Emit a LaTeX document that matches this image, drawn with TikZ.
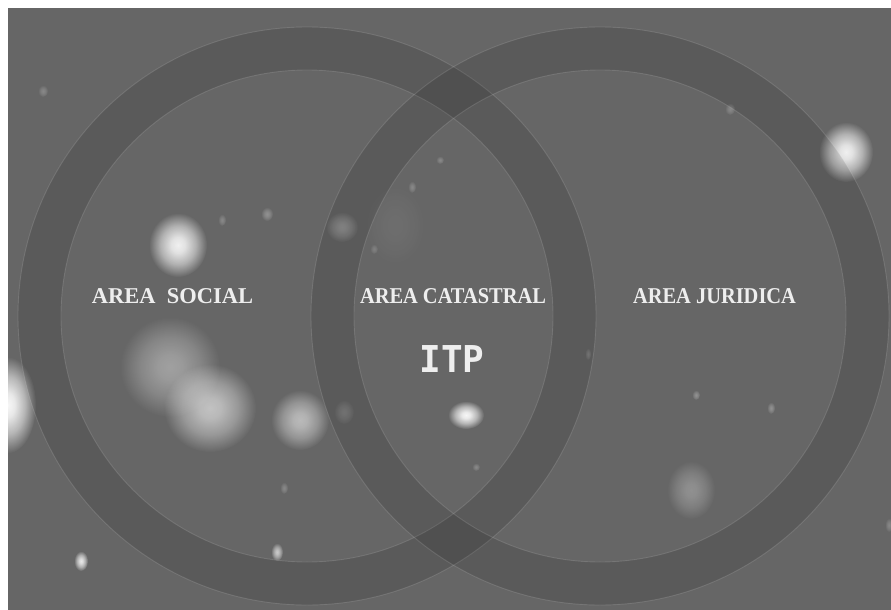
\documentclass[tikz,border=0pt]{standalone}
\usepackage{fontspec}
\setmainfont{Liberation Serif}
\newfontfamily\itpfont{DejaVu Sans Mono}
\usetikzlibrary{fadings}
\definecolor{slidegray}{HTML}{666666}
\definecolor{labelwhite}{HTML}{EEEEEE}
\pgfdeclareradialshading{blobshade}{\pgfpointorigin}{color(0bp)=(white); color(6bp)=(white!90!black); color(15bp)=(white!55!black); color(25bp)=(black); color(50bp)=(black)}
\pgfdeclarefading{blobfade}{\pgfuseshading{blobshade}}
\newcommand{\ring}[3]{\coordinate (#1) at (#2,#3);
  \fill[black,opacity=0.11,even odd rule] (#1) circle (289pt) (#1) circle (246pt);
  \draw[white,opacity=0.13,line width=0.9pt] (#1) circle (289pt) (#1) circle (246pt);}
\newcommand{\blob}[5]{\fill[white,path fading=blobfade,fill opacity=#5] (#1,#2) ellipse [x radius=#3pt, y radius=#4pt];}
\newcommand{\area}[5]{\node[labelwhite,anchor=base,inner sep=0pt] (#1) at (#2,#3) {\resizebox{#4pt}{\height}{\fontsize{22.6}{27}\selectfont\bfseries #5}};}

\begin{document}
\begin{tikzpicture}[x=1pt,y=-1pt]
    \useasboundingbox (0,0) rectangle (891,610);
    \fill[white] (0,0) rectangle (891,610);
    \fill[slidegray] (8,8) rectangle (891,610);
    % bokeh spots
    \blob{178}{245}{29}{32}{0.9}  \blob{170}{367}{50}{50}{0.38}
    \blob{210}{408}{46}{44}{0.6}  \blob{300}{420}{29}{30}{0.55}
    \blob{8}{405}{28}{48}{0.95}   \blob{81}{561}{7}{10}{0.85}
    \blob{466}{415}{18}{14}{0.95} \blob{342}{227}{16}{15}{0.28}
    \blob{846}{152}{27}{30}{0.9}  \blob{691}{490}{24}{29}{0.28}
    \blob{344}{412}{10}{12}{0.17} \blob{395}{225}{30}{40}{0.05}
    \blob{43}{91}{5}{6}{0.22}     \blob{222}{220}{4}{6}{0.22}
    \blob{267}{214}{6}{7}{0.28}   \blob{412}{187}{4}{6}{0.22}
    \blob{440}{160}{4}{4}{0.22}   \blob{374}{249}{4}{5}{0.17}
    \blob{730}{109}{5}{6}{0.22}   \blob{696}{395}{4}{5}{0.28}
    \blob{771}{408}{4}{6}{0.28}   \blob{588}{354}{3}{6}{0.17}
    \blob{476}{467}{4}{4}{0.22}   \blob{284}{488}{4}{6}{0.22}
    \blob{277}{552}{6}{9}{0.65}   \blob{889}{525}{4}{7}{0.22}
    % the two rings
    \ring{social}{307}{316}
    \ring{juridica}{600}{316}
    % labels
    \area{social label}{172.5}{303}{161}{AREA\ \ SOCIAL}
    \area{catastral label}{453}{303}{186}{AREA CATASTRAL}
    \area{juridica label}{714.5}{303}{163}{AREA JURIDICA}
    \node[labelwhite,anchor=base,inner sep=0pt] (itp) at (452,372)
        {\resizebox{65pt}{\height}{\fontsize{37}{40}\selectfont\itpfont\bfseries ITP}};
\end{tikzpicture}
\end{document}
